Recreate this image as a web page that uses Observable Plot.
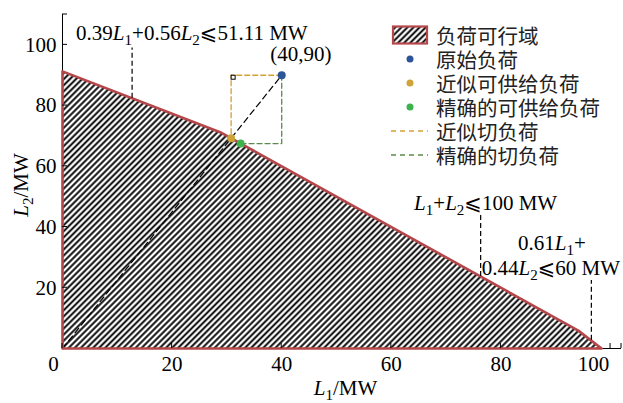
<!DOCTYPE html>
<html><head><meta charset="utf-8">
<script src="https://cdn.jsdelivr.net/npm/d3@7"></script>
<script src="https://cdn.jsdelivr.net/npm/@observablehq/plot@0.6"></script>
<style>
body{margin:0;background:#fff}
#wrap{position:relative;width:623px;height:403px}
</style></head><body>
<svg width="0" height="0" style="position:absolute"><defs>
<pattern id="hatch" patternUnits="userSpaceOnUse" width="4.3" height="4.3" patternTransform="rotate(45)">
<line x1="2.15" y1="-1" x2="2.15" y2="5.3" stroke="#000" stroke-width="1.9"/>
</pattern></defs></svg>
<div id="wrap"></div>
<script>
// ---- data ----
const boundaryL1 = [0, 28.76, 94.12, 98.36];      // upper boundary of feasible region
const boundaryL2 = [91.27, 71.24, 5.88, 0];
const originalLoad = [40, 90];
const approxLoad = [30.77, 69.23];
const exactLoad = [32.5, 67.5];
const xTicks = [0, 20, 40, 60, 80, 100];
const yTicks = [20, 40, 60, 80, 100];
const xDomain = [0, 102];
const yDomain = [0, 110];
// constraint annotation leaders: [L1, L2 on boundary, L2 top]
const leaderL1 = [12.7, 76.3, 96.5];
const leaderLow = [82.4, 23.7, 2.7];
const leaderHigh = [99, 43.9, 22.4];
const legendLabels = ["负荷可行域", "原始负荷", "近似可供给负荷", "精确的可供给负荷", "近似切负荷", "精确的切负荷"];

const RED = "#b5474b", BLUE = "#2c5499", GOLD = "#cda33a", GREEN = "#3cb44b";
const GOLDD = "#d4a135", GREEND = "#5c8a4c";
const SERIF = "'Liberation Serif','DejaVu Serif',serif";

const region = boundaryL1.map((x, i) => ({x, y: boundaryL2[i]}));
const outline = [{x: 0, y: 0}, ...region, {x: 0, y: 0}];
const ray = [{x: 0, y: 0}, {x: originalLoad[0], y: originalLoad[1]}];
const goldPath = [{x: originalLoad[0], y: originalLoad[1]}, {x: approxLoad[0], y: originalLoad[1]}, {x: approxLoad[0], y: approxLoad[1]}];
const greenPath = [{x: originalLoad[0], y: originalLoad[1]}, {x: originalLoad[0], y: exactLoad[1]}, {x: exactLoad[0], y: exactLoad[1]}];
const leaders = leaderL1.map((x, i) => ({x, y1: leaderLow[i], y2: leaderHigh[i]}));
const points = [
  {x: originalLoad[0], y: originalLoad[1], c: BLUE},
  {x: approxLoad[0], y: approxLoad[1], c: GOLD},
  {x: exactLoad[0], y: exactLoad[1], c: GREEN}
];

const plot = Plot.plot({
  width: 623, height: 403,
  marginLeft: 62, marginRight: 2, marginTop: 14, marginBottom: 55,
  x: {domain: xDomain}, y: {domain: yDomain},
  style: {fontFamily: SERIF, fontSize: "21px", color: "#000", background: "#fff"},
  marks: [
    Plot.ruleX([0], {stroke: "#000", strokeWidth: 1}),
    Plot.ruleY([0], {stroke: "#000", strokeWidth: 1}),
    Plot.areaY(region, {x: "x", y: "y", fill: "url(#hatch)"}),
    Plot.line(ray, {x: "x", y: "y", stroke: "#000", strokeWidth: 1.2, strokeDasharray: "6,4"}),
    Plot.line(outline, {x: "x", y: "y", stroke: RED, strokeWidth: 2.6, strokeLinejoin: "round"}),
    Plot.line(goldPath, {x: "x", y: "y", stroke: GOLDD, strokeWidth: 1.3, strokeDasharray: "5,3"}),
    Plot.line(greenPath, {x: "x", y: "y", stroke: GREEND, strokeWidth: 1.3, strokeDasharray: "5,3"}),
    Plot.ruleX(leaders, {x: "x", y1: "y1", y2: "y2", stroke: "#000", strokeWidth: 1.2, strokeDasharray: "5,3"}),
    Plot.dot(points, {x: "x", y: "y", fill: "c", r: 4}),
    Plot.axisX(xTicks.slice(1, -1), {tickSize: 0, tickPadding: 8, label: null}),
    Plot.axisX([xTicks[0]], {tickSize: 0, tickPadding: 8, label: null, dx: -9}),
    Plot.axisX([xTicks[xTicks.length - 1]], {tickSize: 0, tickPadding: 8, label: null, dx: -17}),
    Plot.axisY(yTicks, {tickSize: 0, tickPadding: 6, label: null})
  ]
});
document.getElementById("wrap").appendChild(plot);

const svg = d3.select(plot);
const X = plot.scale("x"), Y = plot.scale("y");
const sx = v => X.apply(v), sy = v => Y.apply(v);

// inward ticks and end brackets
const tg = svg.append("g").attr("stroke", "#000").attr("stroke-width", 1);
xTicks.concat([xDomain[1]]).forEach(t => tg.append("line")
  .attr("x1", sx(t)).attr("x2", sx(t)).attr("y1", sy(0)).attr("y2", sy(0) - 5));
yTicks.concat([yDomain[1]]).forEach(t => tg.append("line")
  .attr("x1", sx(0)).attr("x2", sx(0) + 5).attr("y1", sy(t)).attr("y2", sy(t)));

// right-angle marker
svg.append("rect").attr("x", sx(approxLoad[0]) + 0.5).attr("y", sy(originalLoad[1]) + 0.5)
  .attr("width", 4).attr("height", 4).attr("fill", "#fff").attr("stroke", "#000").attr("stroke-width", 1);

// rich text helper
function rich(x, y, parts, anchor = "middle", rotate = false) {
  const t = svg.append("text").attr("text-anchor", anchor)
    .attr("font-family", SERIF + ",'DejaVu Sans'").attr("font-size", 21).attr("fill", "#000");
  if (rotate) t.attr("transform", `translate(${x},${y}) rotate(-90)`);
  else t.attr("x", x).attr("y", y);
  let cur = 0;
  for (const [s, kind] of parts) {
    const ts = t.append("tspan").text(s);
    const want = kind === "sub" ? 5 : 0;
    if (kind === "i") ts.attr("font-style", "italic");
    if (kind === "sub") ts.attr("font-size", 15);
    if (want !== cur) ts.attr("dy", want - cur);
    cur = want;
  }
  return t;
}
const LEQ = "\u2A7D";
rich(sx(23.7), sy(101.6), [["0.39"], ["L", "i"], ["1", "sub"], ["+0.56"], ["L", "i"], ["2", "sub"], [LEQ + "51.11 MW"]]);
rich(sx(43.6), sy(94.4), [["(40,90)"]]);
rich(sx(77.3), sy(45.5), [["L", "i"], ["1", "sub"], ["+"], ["L", "i"], ["2", "sub"], [LEQ + "100 MW"]]);
rich(sx(89.4), sy(32.3), [["0.61"], ["L", "i"], ["1", "sub"], ["+"]]);
rich(sx(89.2), sy(24.1), [["0.44"], ["L", "i"], ["2", "sub"], [LEQ + "60 MW"]]);
// axis titles
rich((sx(xDomain[0]) + sx(xDomain[1])) / 2 + 4, 395, [["L", "i"], ["1", "sub"], ["/MW"]]);
rich(28, 185, [["L", "i"], ["2", "sub"], ["/MW"]], "middle", true);

// legend
const lg = svg.append("g");
const rowY = legendLabels.map((_, i) => 35 + i * 24);
lg.append("rect").attr("x", 393).attr("y", rowY[0] - 8.5).attr("width", 34).attr("height", 17)
  .attr("fill", "url(#hatch)").attr("stroke", RED).attr("stroke-width", 2.2);
[BLUE, GOLD, GREEN].forEach((c, i) => lg.append("circle").attr("cx", 410).attr("cy", rowY[i + 1]).attr("r", 3.5).attr("fill", c));
[GOLDD, GREEND].forEach((c, i) => lg.append("line").attr("x1", 391).attr("x2", 428)
  .attr("y1", rowY[i + 4]).attr("y2", rowY[i + 4]).attr("stroke", c).attr("stroke-width", 1.4).attr("stroke-dasharray", "5,4"));
legendLabels.forEach((s, i) => lg.append("text").attr("x", 436).attr("y", rowY[i])
  .attr("text-anchor", "start")
  .attr("dominant-baseline", "central").attr("font-family", "'Noto Sans CJK SC',sans-serif")
  .attr("font-size", 20.5).attr("fill", "#222").text(s));
</script>
</body></html>
